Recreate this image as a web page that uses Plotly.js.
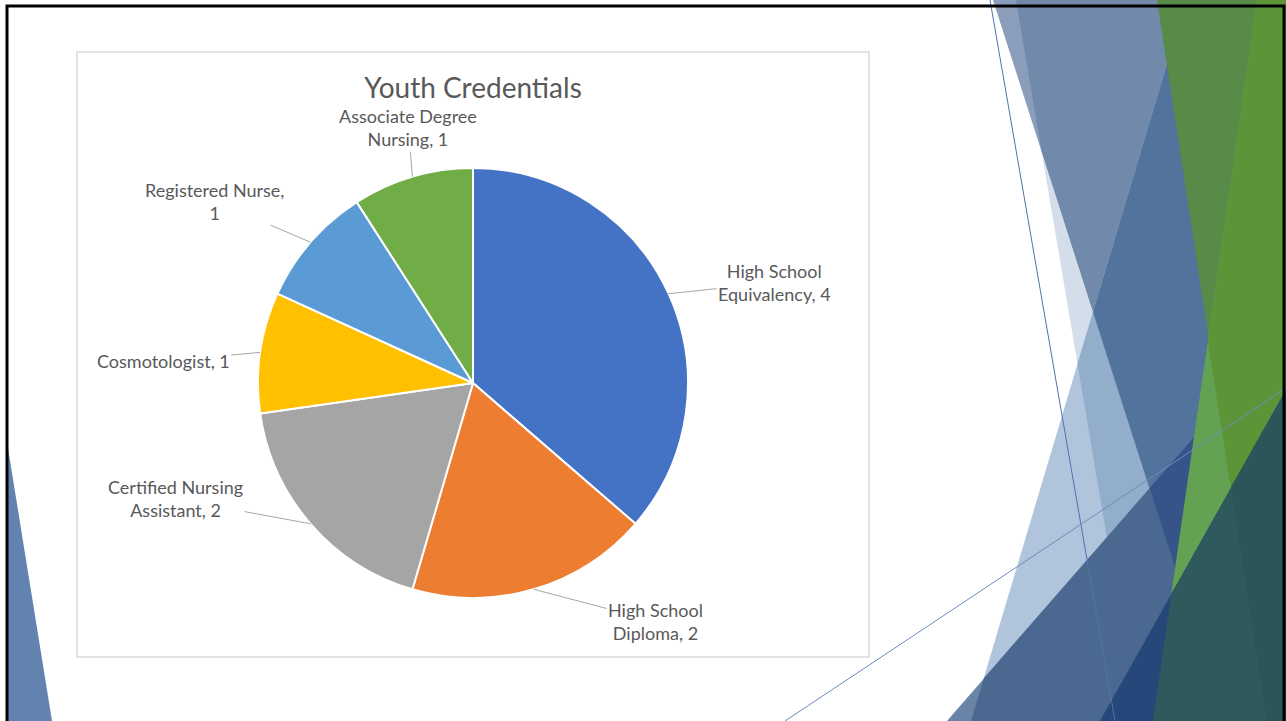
<!DOCTYPE html>
<html>
<head>
<meta charset="utf-8">
<script src="https://cdn.plot.ly/plotly-3.0.1.min.js"></script>
<style>html,body{margin:0;padding:0;background:#fff;overflow:hidden}#chart{width:1286px;height:721px}</style>
</head>
<body>
<div id="chart"></div>
<script>
// ---- data ----
const categories = ['High School Equivalency', 'High School Diploma', 'Certified Nursing Assistant', 'Cosmotologist', 'Registered Nurse', 'Associate Degree Nursing'];
const values = [4, 2, 2, 1, 1, 1];
const sliceColors = ['#4472C4', '#ED7D31', '#A5A5A5', '#FFC000', '#5B9BD5', '#70AD47'];
const labelTemplates = ['High School<br>Equivalency, %v', 'High School<br>Diploma, %v', 'Certified Nursing<br>Assistant, %v', 'Cosmotologist, %v', 'Registered Nurse,<br>%v', 'Associate Degree<br>Nursing, %v'];
const chartTitle = 'Youth Credentials';

// ---- layout constants (pixels) ----
const W = 1286, H = 721;
const CX = 473, CY = 383, R = 215;
const labelOffsets = [[106, -11], [122, 32], [-135, -25], [-97, 9], [-96, -41], [-4, -49]];
const FONT = 'Lato, "Open Sans", "Liberation Sans", sans-serif';

function px(x) { return x / W; }
function py(y) { return 1 - y / H; }
function poly(pts) { return 'M' + pts.map(p => px(p[0]).toFixed(5) + ',' + py(p[1]).toFixed(5)).join('L') + 'Z'; }
function fillShape(pts, color) {
  return {type: 'path', xref: 'paper', yref: 'paper', path: poly(pts), fillcolor: color, line: {width: 0}, layer: 'below'};
}
function lineShape(a, b, color, w) {
  return {type: 'line', xref: 'paper', yref: 'paper', x0: px(a[0]), y0: py(a[1]), x1: px(b[0]), y1: py(b[1]), line: {color: color, width: w}, layer: 'below'};
}

// decorative slide background (Facet-like facets)
const shapes = [
  fillShape([[993, 0], [1286, 0], [1286, 721], [1224, 721]], '#8a9ebc'),
  fillShape([[1041.5, 151], [1138, 721], [1224, 721]], '#d3deea'),
  fillShape([[1016, 0], [1286, 0], [1286, 721], [1224, 721], [1041.5, 151]], '#7189aa'),
  fillShape([[1186, 0], [1286, 0], [1286, 721], [971, 721]], '#b0c4dc'),
  fillShape([[1186, 0], [1286, 0], [1286, 721], [1138, 721], [1077.5, 364]], '#92aecb'),
  fillShape([[1186, 0], [1286, 0], [1286, 721], [1224, 721], [1093, 312]], '#52739c'),
  fillShape([[947, 721], [1286, 332], [1286, 721]], '#6a84a8'),
  fillShape([[984, 678], [1286, 332], [1286, 721], [971, 721]], '#4a6890'),
  fillShape([[1149.8, 488], [1286, 332], [1286, 721], [1224, 721]], '#36548a'),
  fillShape([[1157, 0], [1286, 0], [1286, 721], [1267, 721]], '#588a48'),
  fillShape([[1257, 0], [1286, 0], [1286, 721], [1153, 721]], '#63a253'),
  fillShape([[1257, 0], [1286, 0], [1286, 721], [1267, 721], [1208, 342]], '#5c9438'),
  fillShape([[1286, 390], [1286, 721], [1100, 721]], '#25477a'),
  fillShape([[1286, 390], [1286, 721], [1153, 721], [1171.3, 594]], '#2e5a5e'),
  fillShape([[1231, 487], [1286, 390], [1286, 721], [1267, 721]], '#2b5558'),
  fillShape([[7, 442], [7, 721], [52, 721]], '#6283b0'),
  lineShape([990, 0], [1115, 721], '#4f74ab', 1),
  lineShape([785, 721], [1286, 388], '#6a8cbd', 1),
  // chart area
  {type: 'rect', xref: 'paper', yref: 'paper', x0: px(77), y0: py(52), x1: px(869), y1: py(657), fillcolor: '#ffffff', line: {color: '#d9d9d9', width: 1.5}, layer: 'below'},
  // slide border
  {type: 'rect', xref: 'paper', yref: 'paper', x0: px(7), y0: py(6), x1: px(1284), y1: py(760), fillcolor: 'rgba(0,0,0,0)', line: {color: '#000000', width: 3}, layer: 'above'}
];

// data labels with leader lines, anchored at slice mid-angle on the rim
const total = values.reduce((a, b) => a + b, 0);
let cum = 0;
const annotations = values.map((v, i) => {
  const theta = 2 * Math.PI * (cum + v / 2) / total;
  cum += v;
  const ax0 = CX + R * Math.sin(theta);
  const ay0 = CY - R * Math.cos(theta);
  return {
    xref: 'paper', yref: 'paper', x: px(ax0), y: py(ay0),
    text: labelTemplates[i].replace('%v', values[i]),
    showarrow: true, arrowhead: 0, arrowwidth: 1, arrowcolor: '#a6a6a6', standoff: 0,
    ax: labelOffsets[i][0], ay: labelOffsets[i][1],
    align: 'center', font: {family: FONT, size: 18, color: '#595959'}
  };
});

const trace = {
  type: 'pie',
  labels: categories,
  values: values,
  sort: false,
  direction: 'clockwise',
  rotation: 0,
  textinfo: 'none',
  hoverinfo: 'label+value',
  marker: {colors: sliceColors, line: {color: '#ffffff', width: 2}},
  domain: {x: [px(CX - R), px(CX + R)], y: [py(CY + R), py(CY - R)]},
  showlegend: false
};

const layout = {
  width: W, height: H,
  margin: {l: 0, r: 0, t: 0, b: 0},
  paper_bgcolor: '#ffffff',
  plot_bgcolor: '#ffffff',
  showlegend: false,
  title: {text: chartTitle, x: px(473), xref: 'paper', xanchor: 'center', y: py(88), yref: 'paper', yanchor: 'middle', font: {family: FONT, size: 28, color: '#595959'}},
  shapes: shapes,
  annotations: annotations
};

Plotly.newPlot('chart', [trace], layout, {displayModeBar: false, staticPlot: true});
</script>
</body>
</html>
